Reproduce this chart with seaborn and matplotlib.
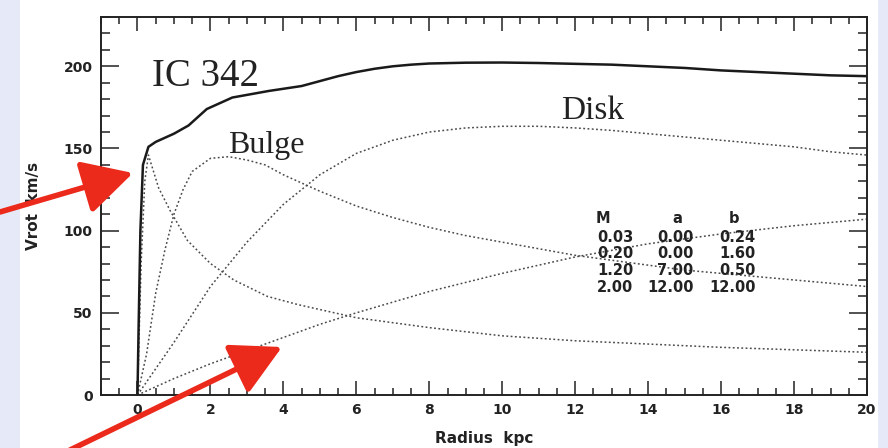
import numpy as np
import pandas as pd
import matplotlib
matplotlib.use("Agg")
import matplotlib.pyplot as plt
import seaborn as sns
from matplotlib.patches import Rectangle
from matplotlib.ticker import MultipleLocator

# ---------------- data ----------------
r_total = [0, 0.03, 0.08, 0.15, 0.3, 0.5, 0.7, 1.0, 1.4, 1.9, 2.6, 3.6, 4.5, 5.0,
           5.5, 6.0, 6.5, 7.0, 7.5, 8.0, 9.0, 10, 11, 12, 13, 14, 15, 16, 17,
           18, 19, 20]
v_total = [0, 40, 100, 140, 151, 154, 156, 159, 164, 174, 181, 185, 188, 191,
           194, 196.5, 198.5, 200, 201, 201.7, 202.2, 202.3, 202, 201.5, 201,
           200, 199, 197.5, 196.5, 195.5, 194.5, 194]

r_core = [0, 0.1, 0.2, 0.3, 0.58, 0.9, 1.37, 2, 2.64, 3.56, 4.4, 6, 8, 10, 12,
          14, 16, 18, 20]
v_core = [0, 80, 130, 146, 126, 112, 94, 80, 70, 60, 55, 47, 41, 36, 33,
          31, 29, 27.5, 26]

r_bulge = [0, 0.25, 0.5, 0.75, 1, 1.25, 1.5, 2, 2.5, 3, 3.5, 4, 4.5, 5, 6, 7,
           8, 9, 10, 11, 12, 13, 14, 15, 16, 17, 18, 19, 20]
v_bulge = [0, 25, 62, 88, 110, 125, 136, 144, 145, 143, 140, 134, 129, 124, 115,
           108, 102, 97, 93, 89, 85, 82, 79, 76, 74, 72, 70, 68, 66]

r_disk = [0, 1, 2, 3, 4, 5, 6, 7, 8, 9, 10, 11, 12, 13, 14, 15, 16, 17, 18, 19, 20]
v_disk = [0, 32, 66, 93, 116, 134, 147, 155, 160, 162.5, 163.5, 163.5, 162.5,
          161, 159, 157, 155, 153, 151, 148, 146]

r_halo = [0, 1, 2, 3, 4, 5, 6, 8, 10, 12, 14, 16, 18, 20]
v_halo = [0, 10, 19, 27, 35, 43, 50, 63, 74, 84, 92, 98, 103, 107]

table_header = ["M", "a", "b"]
table_rows = [["0.03", "0.00", "0.24"],
              ["0.20", "0.00", "1.60"],
              ["1.20", "7.00", "0.50"],
              ["2.00", "12.00", "12.00"]]

x_ticks = list(range(0, 21, 2))
y_ticks = [0, 50, 100, 150, 200]

# ---------------- figure ----------------
sns.set_style("ticks")
plt.rcParams["font.family"] = ["DejaVu Sans"]

W, H = 888, 448
fig = plt.figure(figsize=(W / 100, H / 100), dpi=100)
fig.patch.set_facecolor("#e6e9f7")
fig.patches.append(Rectangle((20 / W, 0), (878 - 20) / W, 1, transform=fig.transFigure,
                             facecolor="white", edgecolor="none", zorder=-10))

ax = fig.add_axes([101 / W, (H - 395) / H, (867 - 101) / W, (395 - 17) / H])
ax.set_facecolor("white")
ax.set_zorder(1)

ink = "#222222"
dot = (0, (1.2, 1.6))
curves = [
    (r_core, v_core), (r_bulge, v_bulge), (r_disk, v_disk), (r_halo, v_halo)
]
for rr, vv in curves:
    df = pd.DataFrame({"r": rr, "v": vv})
    sns.lineplot(data=df, x="r", y="v", ax=ax, color="#4a4a4a", lw=1.1,
                 linestyle=dot, sort=False, estimator=None)

df_tot = pd.DataFrame({"r": r_total, "v": v_total})
sns.lineplot(data=df_tot, x="r", y="v", ax=ax, color="#1a1a1a", lw=1.8,
             sort=False, estimator=None)

ax.set_xlim(-1, 20)
ax.set_ylim(0, 230)
ax.set_xticks(x_ticks)
ax.set_yticks(y_ticks)
ax.xaxis.set_minor_locator(MultipleLocator(0.5))
ax.yaxis.set_minor_locator(MultipleLocator(10))
ax.tick_params(axis="both", which="both", direction="in", top=True, right=True,
               colors=ink, width=1.1)
ax.tick_params(axis="x", which="major", length=10, pad=6)
ax.tick_params(axis="x", which="minor", length=5)
ax.tick_params(axis="y", which="major", length=13, pad=6)
ax.tick_params(axis="y", which="minor", length=6.5)
for lab in ax.get_xticklabels() + ax.get_yticklabels():
    lab.set_fontsize(10)
    lab.set_fontweight("bold")
    lab.set_color(ink)
for s in ax.spines.values():
    s.set_linewidth(1.4)
    s.set_color(ink)

ax.set_xlabel("Radius  kpc", fontsize=11, fontweight="bold", color=ink, labelpad=10)
ax.set_ylabel("Vrot  km/s", fontsize=11, fontweight="bold", color=ink, labelpad=16)

serif = ["Liberation Serif", "DejaVu Serif"]
ax.text(0.41, 188, "IC 342", family=serif, fontsize=28, color=ink,
        ha="left", va="baseline")
ax.text(2.47, 147, "Bulge", family=serif, fontsize=23, color=ink,
        ha="left", va="baseline")
ax.text(11.6, 168, "Disk", family=serif, fontsize=24, color=ink,
        ha="left", va="baseline")

# parameter table
hdr_x = [12.76, 14.8, 16.35]
col_right = [13.6, 15.25, 16.95]
row_y = [96, 86.3, 75.9, 65.6]
for hx, h in zip(hdr_x, table_header):
    ax.text(hx, 107.5, h, fontsize=10.5, fontweight="bold", color=ink,
            ha="center", va="center")
for ry, row in zip(row_y, table_rows):
    for cx, cell in zip(col_right, row):
        ax.text(cx, ry, cell, fontsize=10.5, fontweight="bold", color=ink,
                ha="right", va="center")

# red arrows (slide annotations)
red = "#ec2a1c"
for (x0, y0), (x1, y1) in [((0, 236), (133, 275)), ((70, -2), (282, 101))]:
    ax.annotate("", xy=(x1, y1), xycoords="figure pixels",
                xytext=(x0, y0), textcoords="figure pixels",
                arrowprops=dict(arrowstyle="-|>,head_length=1.4,head_width=0.75",
                                lw=4, color=red, mutation_scale=22,
                                shrinkA=0, shrinkB=0),
                annotation_clip=False)

fig.savefig("out.png", dpi=100, facecolor=fig.get_facecolor())
